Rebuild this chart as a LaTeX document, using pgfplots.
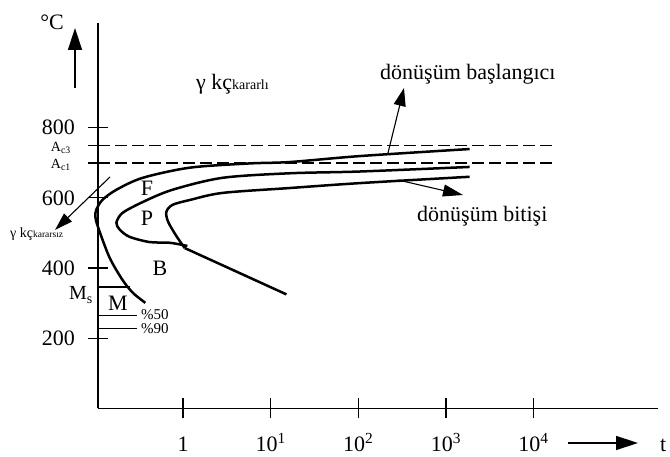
\documentclass[border=0pt]{standalone}
\usepackage{pgfplots}
\pgfplotsset{compat=1.18}
\usepackage{fontspec}
\setmainfont{Liberation Serif}
\usetikzlibrary{arrows.meta}

\newcommand{\fsz}[1]{\fontsize{#1}{#1}\selectfont}

\begin{document}
\begin{tikzpicture}
\begin{axis}[
  scale only axis, width=560pt, height=385.5pt,
  xmin=-0.97, xmax=5.42, ymin=0, ymax=1098,
  axis lines=left, axis line style={-, line width=1.4pt},
  clip=false,
  xtick={0,1,2,3,4},
  xticklabels={1,10\textsuperscript{1},10\textsuperscript{2},10\textsuperscript{3},10\textsuperscript{4}},
  ytick={200,400,600,800},
  extra y ticks={699,749},
  extra y tick labels={{\fsz{14}A\textsubscript{c1}},{\fsz{14}A\textsubscript{c3}}},
  extra y tick style={yticklabel style={inner sep=0pt, xshift=-5pt, yshift=-2pt}},
  tick align=center, major tick length=20pt,
  tick style={line width=1.2pt, black},
  ticklabel style={font=\fsz{22}},
  /pgf/number format/assume math mode=true,
  xticklabel style={anchor=base, yshift=-33pt},
  yticklabel style={anchor=east, inner sep=1pt, xshift=-12pt},
]
% transformation start (outer C-curve)
\addplot[line width=2.5pt, smooth, tension=0.5] coordinates {
  (3.27,739) (2.02,719) (1.22,702) (0.76,698) (0.08,686) (-0.46,657)
  (-0.76,623) (-0.92,594) (-0.99,566) (-1.00,546) (-0.97,517)
  (-0.84,431) (-0.69,366) (-0.57,329) (-0.43,301)};
% 50 % transformation
\addplot[line width=2.5pt, smooth, tension=0.5] coordinates {
  (3.27,688) (2.02,675) (1.22,670) (0.45,657) (-0.12,623) (-0.46,588)
  (-0.69,557) (-0.76,529) (-0.72,509) (-0.61,489) (-0.38,474)
  (-0.15,472) (0.05,463)};
% transformation end
\addplot[line width=2.5pt, smooth, tension=0.5] coordinates {
  (3.27,660) (2.02,642) (1.22,628) (0.45,614) (0.08,594) (-0.12,580)
  (-0.19,560) (-0.17,532) (-0.07,489) (0.02,457)};
\addplot[line width=2.5pt] coordinates {(0.02,457) (1.18,325)};
% critical temperatures
\addplot[line width=1.3pt, dash pattern=on 12pt off 5pt] coordinates {(-0.97,749) (4.21,749)};
\addplot[line width=1.3pt, dash pattern=on 12pt off 5pt] coordinates {(-0.97,699) (4.21,699)};
% martensite start, 50 % and 90 %
\addplot[line width=1.2pt] coordinates {(-0.97,346) (-0.61,346)};
\addplot[line width=1.2pt] coordinates {(-0.97,266) (-0.53,266)};
\addplot[line width=1.2pt] coordinates {(-0.97,227) (-0.53,227)};
\end{axis}

\begin{scope}[shift={(-98pt,408.5pt)}, x=1pt, y=-1pt]
  \node[font=\fsz{22}] at (52,22) {°C};
  \draw[line width=1.4pt, -{Triangle[length=22pt, width=14pt]}] (75,88) -- (75,28);
  \draw[line width=1.4pt, -{Triangle[length=22pt, width=14pt]}] (568,443) -- (638,443);
  \node[font=\fsz{22}, anchor=base west, inner sep=0pt] at (660,452) {t};

  \node[anchor=base west, inner sep=0pt] at (196,90) {\fsz{22}γ kç\fsz{14}kararlı};
  \node[anchor=base west, inner sep=0pt] at (10,238) {\fsz{14}γ kç\fsz{9.5}kararsız};
  \draw[line width=1.1pt, -{Triangle[length=18pt, width=11pt]}] (110,177) -- (55,230);

  \node[font=\fsz{22}] at (147,188) {F};
  \node[font=\fsz{22}] at (147,218) {P};
  \node[font=\fsz{22}] at (160,268) {B};
  \node[font=\fsz{22}] at (118,303) {M};
  \node[anchor=base east, inner sep=0pt] at (93,300) {\fsz{20}M\textsubscript{s}};
  \node[anchor=west, inner sep=0pt, font=\fsz{15}] at (141,315) {\%50};
  \node[anchor=west, inner sep=0pt, font=\fsz{15}] at (141,329) {\%90};

  \node[anchor=base west, inner sep=0pt, font=\fsz{22}] at (380,80) {dönüşüm başlangıcı};
  \draw[line width=1.1pt, -{Triangle[length=18pt, width=12pt]}] (388,153) -- (404,88);
  \node[anchor=base west, inner sep=0pt, font=\fsz{22}] at (417,222) {dönüşüm bitişi};
  \draw[line width=1.1pt, -{Triangle[length=20pt, width=12pt]}] (398,180) -- (463,195);

  \pgfresetboundingbox
  \path[use as bounding box] (0,0) rectangle (670,457);
\end{scope}
\end{tikzpicture}
\end{document}
